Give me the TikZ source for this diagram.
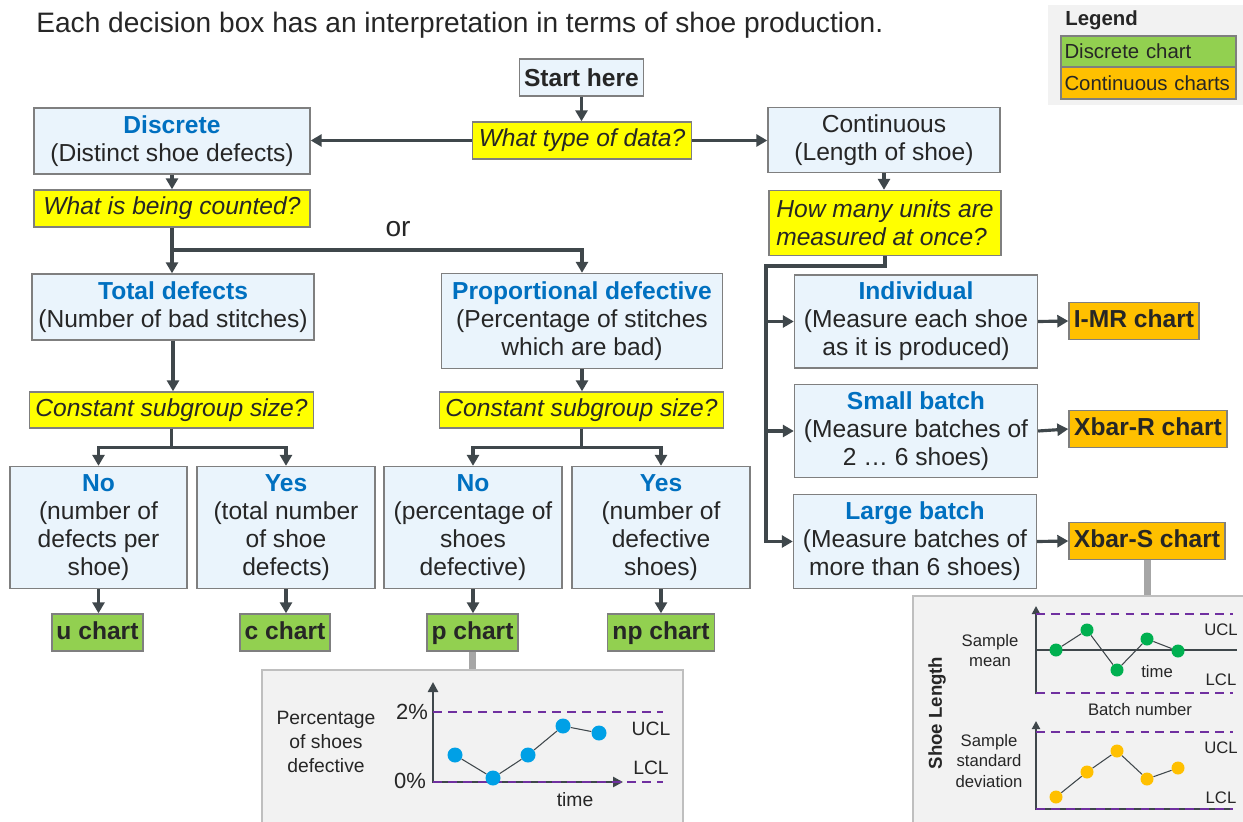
\documentclass[tikz,border=0pt]{standalone}
\usepackage{fontspec}
\setmainfont{Liberation Sans}
\usetikzlibrary{arrows.meta, positioning, calc}
\definecolor{spcInk}{HTML}{3F474B}
\definecolor{spcText}{HTML}{262626}
\definecolor{spcBlue}{HTML}{0070C0}
\definecolor{spcFill}{HTML}{EAF4FC}
\definecolor{spcEdge}{HTML}{7F7F7F}
\definecolor{spcYellow}{HTML}{FFFF00}
\definecolor{spcGreen}{HTML}{92D050}
\definecolor{spcOrange}{HTML}{FFC000}
\definecolor{spcPanel}{HTML}{F2F2F2}
\definecolor{spcPanelEdge}{HTML}{BFBFBF}
\definecolor{spcLink}{HTML}{A6A6A6}
\definecolor{spcPurple}{HTML}{7030A0}
\definecolor{spcDotBlue}{HTML}{00A0E6}
\definecolor{spcDotGreen}{HTML}{00B050}
\newcommand{\fbody}{\fontsize{14}{16}\selectfont}
\newcommand{\boxhead}[1]{{\color{spcBlue}\bfseries #1}}
\tikzset{
  choice/.style={
    draw=spcEdge, line width=0.8pt, fill=spcFill,
    align=center, font=\fbody, text=spcText, inner sep=1pt
  },
  ask/.style={choice, fill=spcYellow, font=\fbody\itshape},
  dchart/.style={choice, fill=spcGreen, font=\fbody\bfseries, minimum height=0.74cm,
    text height=10.5pt, text depth=3pt},
  cchart/.style={dchart, fill=spcOrange},
  flow/.style={-{Triangle[length=2.2mm, width=2.4mm]}, line width=1.8pt, draw=spcInk},
  link/.style={line width=4pt, draw=spcLink},
  panel/.style={draw=spcPanelEdge, line width=0.8pt, fill=spcPanel},
  axisline/.style={-{Triangle[length=2mm, width=2mm]}, line width=1.5pt, draw=spcInk},
  thinaxis/.style={-{Triangle[length=1.6mm, width=1.6mm]}, line width=1.1pt, draw=spcInk},
  limit/.style={draw=spcPurple, line width=1.1pt, dash pattern=on 5pt off 3.5pt},
  trend/.style={draw=spcInk, line width=0.6pt},
  spot/.style={circle, inner sep=0pt, minimum size=0.3cm},
  lbl/.style={font=\fontsize{11}{13.7}\selectfont, text=spcText, inner sep=0pt, align=center},
  slbl/.style={font=\fontsize{9.5}{11.4}\selectfont, text=spcText, inner sep=0pt, align=center},
}

\begin{document}
\begin{tikzpicture}[x=0.02cm, y=-0.02cm]
  \useasboundingbox (0,0) rectangle (1243,821);

  \node[anchor=west, inner sep=0pt, font=\fontsize{16}{19}\selectfont, text=spcText] (title) at (36,25)
    {Each decision box has an interpretation in terms of shoe production.};

  % legend
  \node[fill=spcPanel, minimum width=3.9cm, minimum height=2cm] (legbox) at (1145.5,55) {};
  \node[anchor=west, inner sep=0pt, font=\fontsize{11.6}{13}\selectfont\bfseries, text=spcText] (leg) at (1065,20) {Legend};
  \node[choice, fill=spcGreen, font=\fontsize{11.6}{13}\selectfont, align=left, text width=3.36cm,
        inner xsep=0.07cm, minimum height=0.62cm] (legd) at (1148.5,51.5) {Discrete chart};
  \node[choice, fill=spcOrange, font=\fontsize{11.6}{13}\selectfont, align=left, text width=3.36cm,
        inner xsep=0.07cm, minimum height=0.64cm] (legc) at (1148.5,83) {Continuous charts};

  % decision tree
  \node[choice, minimum width=2.48cm, minimum height=0.74cm, font=\fbody\bfseries] (start) at (581.5,77.5) {Start here};
  \node[ask, minimum width=4.38cm, minimum height=0.74cm] (qtype) at (582,140.5) {What type of data?};
  \node[choice, minimum width=5.52cm, minimum height=1.32cm] (disc) at (172,141) {\boxhead{Discrete}\\(Distinct shoe defects)};
  \node[choice, minimum width=4.64cm, minimum height=1.30cm] (cont) at (884,140) {Continuous\\(Length of shoe)};
  \node[ask, minimum width=5.52cm, minimum height=0.74cm] (qcount) at (172,208.5) {What is being counted?};
  \node[font=\fontsize{16}{18}\selectfont, text=spcText, inner sep=0pt] (or) at (398,229) {or};
  \node[choice, minimum width=5.64cm, minimum height=1.32cm] (total) at (173,307) {\boxhead{Total defects}\\(Number of bad stitches)};
  \node[choice, minimum width=5.62cm, minimum height=1.90cm] (prop) at (582,321)
    {\boxhead{Proportional defective}\\(Percentage of stitches\\which are bad)};
  \node[ask, minimum width=5.68cm, minimum height=0.72cm] (sizeL) at (171.5,410) {Constant subgroup size?};
  \node[ask, minimum width=5.68cm, minimum height=0.72cm] (sizeR) at (581.5,410) {Constant subgroup size?};

  \node[choice, minimum width=3.54cm, minimum height=2.44cm] (noU) at (98.5,527.5) {\boxhead{No}\\(number of\\defects per\\shoe)};
  \node[choice, minimum width=3.56cm, minimum height=2.44cm] (yesC) at (286,527.5) {\boxhead{Yes}\\(total number\\of shoe\\defects)};
  \node[choice, minimum width=3.56cm, minimum height=2.44cm] (noP) at (473,527.5) {\boxhead{No}\\(percentage of\\shoes\\defective)};
  \node[choice, minimum width=3.56cm, minimum height=2.44cm] (yesNP) at (661,527.5) {\boxhead{Yes}\\(number of\\defective\\shoes)};

  \node[dchart, minimum width=1.82cm] (uc) at (97.5,632.5) {u chart};
  \node[dchart, minimum width=1.80cm] (cc) at (285,632.5) {c chart};
  \node[dchart, minimum width=1.82cm] (pc) at (472.5,632.5) {p chart};
  \node[dchart, minimum width=2.14cm] (npc) at (661,632.5) {np chart};

  \node[ask, minimum width=4.64cm, minimum height=1.30cm, align=left] (qunits) at (885,223) {How many units are\\measured at once?};
  \node[choice, minimum width=4.86cm, minimum height=1.86cm] (indiv) at (916,321.5) {\boxhead{Individual}\\(Measure each shoe\\as it is produced)};
  \node[choice, minimum width=4.86cm, minimum height=1.86cm] (small) at (916,431) {\boxhead{Small batch}\\(Measure batches of\\2 … 6 shoes)};
  \node[choice, minimum width=4.86cm, minimum height=1.88cm] (large) at (915,541.5) {\boxhead{Large batch}\\(Measure batches of\\more than 6 shoes)};

  \node[cchart, minimum width=2.60cm] (imr) at (1134,321) {I-MR chart};
  \node[cchart, minimum width=3.16cm] (xr) at (1148,429) {Xbar-R chart};
  \node[cchart, minimum width=3.12cm] (xs) at (1147,541) {Xbar-S chart};

  \draw[flow] (start.south) -- (start.south |- qtype.north);
  \draw[flow] (qtype.west) -- (qtype.west -| disc.east);
  \draw[flow] (qtype.east) -- (qtype.east -| cont.west);
  \draw[flow] (disc.south) -- (disc.south |- qcount.north);
  \coordinate (fork) at (172,250);
  \draw[flow] (qcount.south) -- (qcount.south |- total.north);
  \draw[flow] (fork) -| (prop.north);
  \draw[flow] (total.south) -- (total.south |- sizeL.north);
  \draw[flow] (prop.south) -- (prop.south |- sizeR.north);
  \draw[flow] (sizeL.south) -- ++(0,19) -| (noU.north);
  \draw[flow] (sizeL.south) -- ++(0,19) -| (yesC.north);
  \draw[flow] (sizeR.south) -- ++(0,19) -| (noP.north);
  \draw[flow] (sizeR.south) -- ++(0,19) -| (yesNP.north);
  \draw[flow] (noU.south) -- (noU.south |- uc.north);
  \draw[flow] (yesC.south) -- (yesC.south |- cc.north);
  \draw[flow] (noP.south) -- (noP.south |- pc.north);
  \draw[flow] (yesNP.south) -- (yesNP.south |- npc.north);

  \draw[flow] (cont.south) -- (cont.south |- qunits.north);
  \coordinate (rail) at (766,266);
  \draw[flow] (qunits.south) |- (rail) |- (large.west);
  \draw[flow] (rail |- indiv.west) -- (indiv.west);
  \draw[flow] (rail |- small.west) -- (small.west);
  \draw[flow] (indiv.east) -- (imr.west);
  \draw[flow] (small.east) -- (xr.west);
  \draw[flow] (large.east) -- (xs.west);

  % p chart inset
  \node[panel, minimum width=8.42cm, minimum height=3.06cm] (pbox) at (472.5,746.5) {};
  \draw[link] (pc.south) -- (pc.south |- pbox.north);
  \node[lbl] (pylab) at (326,742) {Percentage\\of shoes\\defective};
  \node[lbl, font=\fontsize{12.5}{14}\selectfont] (ptop) at (412,712) {2\%};
  \node[lbl, font=\fontsize{12.5}{14}\selectfont] (pzero) at (410,781) {0\%};
  \draw[axisline] (433,783) -- (433,682);
  \draw[axisline] (432,782) -- (623,782);
  \draw[limit] (433,712) -- (663,712);
  \draw[limit] (433,782) -- (663,782);
  \node[lbl] (pucl) at (651,729) {UCL};
  \node[lbl] (plcl) at (651,768) {LCL};
  \node[lbl] (ptime) at (575,800) {time};
  \node[spot, fill=spcDotBlue] (b1) at (455,755) {};
  \node[spot, fill=spcDotBlue] (b2) at (493,778) {};
  \node[spot, fill=spcDotBlue] (b3) at (528,755) {};
  \node[spot, fill=spcDotBlue] (b4) at (563,726) {};
  \node[spot, fill=spcDotBlue] (b5) at (599,733) {};
  \draw[trend] (b1) -- (b2) -- (b3) -- (b4) -- (b5);

  % Xbar-S inset
  \node[panel, minimum width=6.68cm, minimum height=4.54cm] (sbox) at (1080,709.5) {};
  \draw[link] (xs.south) -- (xs.south |- sbox.north);
  \node[slbl, rotate=90, font=\fontsize{10.6}{12}\selectfont\bfseries] (shoelen) at (937,713) {Shoe Length};
  \node[slbl] (smean) at (990,651) {Sample\\mean};
  \node[slbl] (ssd) at (989,761) {Sample\\standard\\deviation};
  \draw[thinaxis] (1036,694) -- (1036,606);
  \draw[limit] (1036,614) -- (1233,614);
  \draw[limit] (1036,693) -- (1233,693);
  \draw[trend, line width=0.8pt] (1036,650) -- (1237,650);
  \node[slbl] (stime) at (1157,672) {time};
  \node[slbl] (sucl1) at (1221,630) {UCL};
  \node[slbl] (slcl1) at (1221,680) {LCL};
  \node[slbl] (sbatch) at (1140,710) {Batch number};
  \draw[thinaxis] (1036,810) -- (1036,721);
  \draw[limit] (1036,732) -- (1233,732);
  \draw[trend, line width=1.1pt] (1036,809) -- (1233,809);
  \draw[limit] (1036,809) -- (1233,809);
  \node[slbl] (sucl2) at (1221,748) {UCL};
  \node[slbl] (slcl2) at (1221,798) {LCL};
  \node[spot, minimum size=0.26cm, fill=spcDotGreen] (g1) at (1056,650) {};
  \node[spot, minimum size=0.26cm, fill=spcDotGreen] (g2) at (1087,630) {};
  \node[spot, minimum size=0.26cm, fill=spcDotGreen] (g3) at (1117,670) {};
  \node[spot, minimum size=0.26cm, fill=spcDotGreen] (g4) at (1147,639) {};
  \node[spot, minimum size=0.26cm, fill=spcDotGreen] (g5) at (1178,651) {};
  \draw[trend] (g1) -- (g2) -- (g3) -- (g4) -- (g5);
  \node[spot, minimum size=0.26cm, fill=spcOrange] (y1) at (1056,797) {};
  \node[spot, minimum size=0.26cm, fill=spcOrange] (y2) at (1087,772) {};
  \node[spot, minimum size=0.26cm, fill=spcOrange] (y3) at (1117,751) {};
  \node[spot, minimum size=0.26cm, fill=spcOrange] (y4) at (1147,779) {};
  \node[spot, minimum size=0.26cm, fill=spcOrange] (y5) at (1178,768) {};
  \draw[trend] (y1) -- (y2) -- (y3) -- (y4) -- (y5);
\end{tikzpicture}
\end{document}
